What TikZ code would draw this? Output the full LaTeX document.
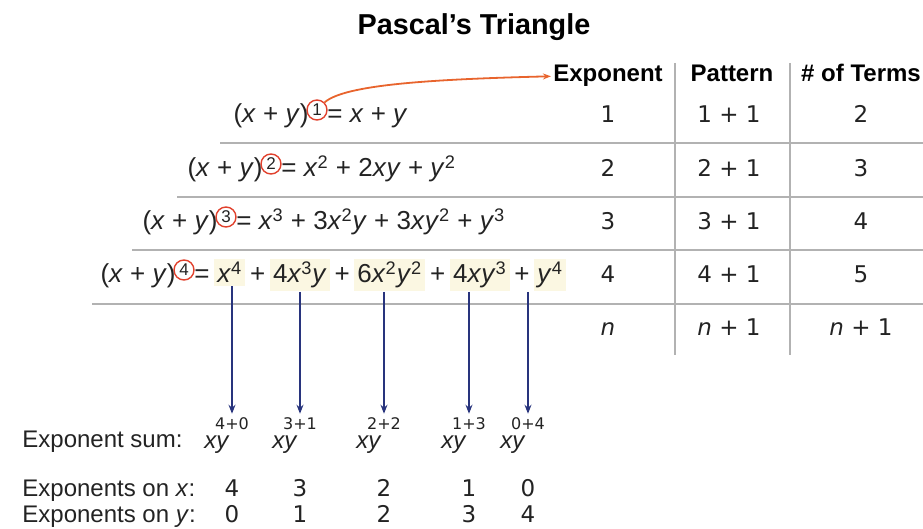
\documentclass[tikz,border=0pt]{standalone}
\usepackage{fontspec}
\setmainfont{Liberation Sans}
\newfontfamily\numfont{DejaVu Sans}
\usetikzlibrary{arrows.meta, positioning, calc}

\definecolor{txtgray}{RGB}{35,35,35}
\definecolor{rulegray}{RGB}{178,178,178}
\definecolor{navyarr}{RGB}{40,52,125}
\definecolor{orangearr}{RGB}{232,100,45}
\definecolor{circred}{RGB}{225,65,45}
\definecolor{hilite}{RGB}{251,247,226}

\newcommand{\vx}{\textit{x}}
\newcommand{\vy}{\textit{y}}

\begin{document}
\begin{tikzpicture}[
    x=0.5pt, y=-0.5pt, >=Stealth,
    eqn/.style={font=\fontsize{13}{15}\selectfont, inner sep=0pt, text=txtgray},
    term/.style={eqn, fill=hilite, inner xsep=1.5pt, inner ysep=1.5pt},
    expc/.style={circle, draw=circred, line width=0.7pt, minimum size=10pt, inner sep=0pt, font=\fontsize{8.5}{9}\selectfont, text=txtgray},
    head/.style={font=\fontsize{12}{14}\selectfont\bfseries, inner sep=0pt, anchor=base},
    cellv/.style={font=\numfont\fontsize{11.5}{13}\selectfont, inner sep=0pt, anchor=base, text=txtgray},
    lbl/.style={font=\fontsize{12}{14}\selectfont, inner sep=0pt, anchor=base west, text=txtgray},
    sumsup/.style={font=\numfont\fontsize{8}{9}\selectfont, inner sep=0pt, anchor=base, text=txtgray},
    tabrule/.style={draw=rulegray, line width=0.6pt},
    downarr/.style={-{Stealth[length=4.5pt, width=3.5pt]}, draw=navyarr, line width=0.9pt, shorten >=2pt},
    exparr/.style={-{Stealth[length=4pt, width=3pt]}, draw=orangearr, line width=0.9pt, shorten >=1pt},
]
    \useasboundingbox (0,0) rectangle (923,529);

    \node[font=\fontsize{14.4}{16}\selectfont\bfseries, inner sep=0pt, anchor=base] (ttl) at (474,35) {Pascal’s Triangle};

    % table
    \node[head] (hexp) at (608,82) {Exponent};
    \node[head] (hpat) at (732,82) {Pattern};
    \node[head] (hterm) at (861,82) {\# of Terms};
    \draw[tabrule] (675,63) -- (675,355);
    \draw[tabrule] (790,63) -- (790,355);
    \foreach \xs/\yy in {220/143, 177/197, 132/250, 92/304}
        \draw[tabrule] (\xs,\yy) -- (923,\yy);

    \foreach \e/\by in {1/123, 2/177, 3/230, 4/283} {
        \pgfmathtruncatemacro\nt{\e+1}
        \node[cellv] (ex\e) at (608,\by) {\e};
        \node[cellv] (pt\e) at (729,\by) {\e{} + 1};
        \node[cellv] (nt\e) at (861,\by) {\nt};
    }
    \node[cellv] (exn) at (608,336) {\textit{n}};
    \node[cellv] (ptn) at (729,336) {\textit{n} + 1};
    \node[cellv] (ntn) at (861,336) {\textit{n} + 1};

    % left-hand sides with circled exponents
    \foreach \i/\cx/\by in {1/317/123, 2/271/177, 3/226/230, 4/184/283} {
        \node[expc] (c\i) at (\cx,\by-13) {\i};
        \node[eqn, anchor=base east] (l\i) at (\cx-8,\by) {(\vx{} + \vy)};
    }
    \node[eqn, anchor=base west] (r1) at (327,123) {= \vx{} + \vy};
    \node[eqn, anchor=base west] (r2) at (281,177) {= \vx\textsuperscript{2} + 2\vx\vy{} + \vy\textsuperscript{2}};
    \node[eqn, anchor=base west] (r3) at (236,230) {= \vx\textsuperscript{3} + 3\vx\textsuperscript{2}\vy{} + 3\vx\vy\textsuperscript{2} + \vy\textsuperscript{3}};

    \node[eqn, anchor=base west] (q4) at (194,283) {=};
    \node[term, base right=2pt of q4] (t1) {\vx\textsuperscript{4}};
    \node[eqn, base right=2pt of t1] (pa) {+};
    \node[term, base right=2pt of pa] (t2) {4\vx\textsuperscript{3}\vy};
    \node[eqn, base right=2pt of t2] (pb) {+};
    \node[term, base right=2pt of pb] (t3) {6\vx\textsuperscript{2}\vy\textsuperscript{2}};
    \node[eqn, base right=2pt of t3] (pc) {+};
    \node[term, base right=2pt of pc] (t4) {4\vx\vy\textsuperscript{3}};
    \node[eqn, base right=2pt of t4] (pd) {+};
    \node[term, base right=2pt of pd] (t5) {\vy\textsuperscript{4}};

    \draw[exparr] (c1.45) .. controls +(20,-18) and +(-120,3) .. (hexp.west);

    % exponent sums
    \node[lbl] (lsum) at (22,448) {Exponent sum:};
    \node[lbl] (lex) at (22,497) {Exponents on \vx:};
    \node[lbl] (ley) at (22,523) {Exponents on \vy:};
    \foreach \i/\x/\s/\a/\b in {1/232/4+0/4/0, 2/300/3+1/3/1, 3/384/2+2/2/2, 4/469/1+3/1/3, 5/528/0+4/0/4} {
        \node[sumsup] (s\i) at (\x,430) {\s};
        \node[lbl, anchor=base east] (xy\i) at (\x-2,449) {\textit{xy}};
        \draw[downarr] (s\i.north |- t\i.south) -- (s\i.north);
        \node[cellv] (nx\i) at (s\i |- lex.base) {\a};
        \node[cellv] (ny\i) at (s\i |- ley.base) {\b};
    }
\end{tikzpicture}
\end{document}
